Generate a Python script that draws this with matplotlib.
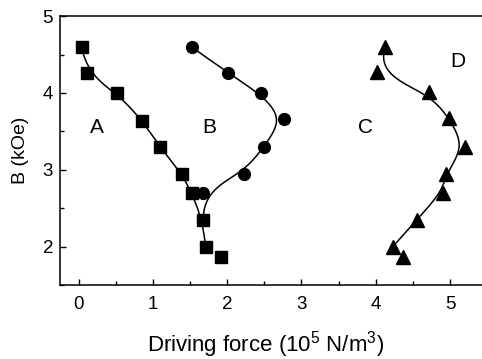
"""
Driving force vs applied field B for four samples (A-D)
"""
import numpy as np
import matplotlib
matplotlib.use('Agg')
import matplotlib.pyplot as plt
from matplotlib.ticker import MultipleLocator

plt.rcParams['font.family'] = ['Liberation Sans', 'DejaVu Sans']
plt.rcParams['mathtext.default'] = 'regular'

# values (x: 10^5 N/m^3, y: kOe)
a_x = [0.04, 0.11, 0.52, 0.86, 1.09, 1.39, 1.52, 1.67, 1.71, 1.92]
a_y = [4.60, 4.26, 4.00, 3.64, 3.30, 2.95, 2.70, 2.35, 2.00, 1.86]

b_x = [1.52, 2.01, 2.45, 2.76, 2.49, 2.22, 1.67, 1.68]
b_y = [4.60, 4.26, 4.00, 3.66, 3.30, 2.95, 2.70, 2.35]

d_x = [4.13, 4.01, 4.71, 4.99, 5.20, 4.94, 4.90, 4.55, 4.23, 4.36]
d_y = [4.60, 4.27, 4.01, 3.67, 3.30, 2.95, 2.70, 2.35, 2.00, 1.87]

panel_labels = ['A', 'B', 'C', 'D']
label_x = [0.24, 1.76, 3.86, 5.11]
label_y = [3.55, 3.55, 3.55, 4.41]


def bspline(xs, ys, n=300, k=3):
    """Clamped cubic B-spline with the data points as control points
    (the 'B-spline' line connection of the original plot)."""
    pts = np.column_stack([xs, ys])
    m = len(pts)
    knots = np.concatenate([np.zeros(k), np.linspace(0, 1, m - k + 1), np.ones(k)])
    t = np.linspace(0, 1 - 1e-9, n)

    def basis(i, p):
        if p == 0:
            return np.where((knots[i] <= t) & (t < knots[i + 1]), 1.0, 0.0)
        out = np.zeros_like(t)
        d1 = knots[i + p] - knots[i]
        d2 = knots[i + p + 1] - knots[i + 1]
        if d1 > 0:
            out += (t - knots[i]) / d1 * basis(i, p - 1)
        if d2 > 0:
            out += (knots[i + p + 1] - t) / d2 * basis(i + 1, p - 1)
        return out

    curve = sum(basis(i, k)[:, None] * pts[i] for i in range(m))
    return curve[:, 0], curve[:, 1]


fig = plt.figure(figsize=(4.82, 3.59), dpi=100)
ax = fig.add_axes([0.1245, 0.206, 0.894, 0.749])

# smooth connecting curves (last point of A and D is not on the curve)
for xs, ys in [(a_x[:-1], a_y[:-1]), (b_x, b_y), (d_x[:-1], d_y[:-1])]:
    cx, cy = bspline(xs, ys)
    ax.plot(cx, cy, color='black', linewidth=1.1, zorder=2)

ax.plot(a_x, a_y, linestyle='none', marker='s', markersize=8, color='black', zorder=3)
ax.plot(b_x, b_y, linestyle='none', marker='o', markersize=8.5, color='black', zorder=3)
ax.plot(d_x, d_y, linestyle='none', marker='^', markersize=10, color='black', zorder=3)

for lab, lx, ly in zip(panel_labels, label_x, label_y):
    ax.text(lx, ly, lab, fontsize=15, ha='center', va='center')

ax.set_xlim(-0.25, 5.55)
ax.set_ylim(1.5, 5)
ax.xaxis.set_major_locator(MultipleLocator(1))
ax.xaxis.set_minor_locator(MultipleLocator(0.5))
ax.yaxis.set_major_locator(MultipleLocator(1))
ax.yaxis.set_minor_locator(MultipleLocator(0.5))
ax.tick_params(which='both', direction='in', top=False, right=False, width=1)
ax.tick_params(which='major', length=4, labelsize=13.5)
ax.tick_params(axis='x', which='major', pad=8)
ax.tick_params(axis='y', which='major', pad=5)
ax.tick_params(which='minor', length=3)
ax.spines['right'].set_visible(False)
for s in ['left', 'bottom', 'top']:
    ax.spines[s].set_linewidth(1.1)

ax.set_xlabel(r'Driving force (10$^5$ N/m$^3$)', fontsize=16)
ax.set_ylabel('B (kOe)', fontsize=14)
ax.xaxis.set_label_coords(0.476, -0.165)
ax.yaxis.set_label_coords(-0.072, 0.5)

fig.savefig('out.png', dpi=100)
